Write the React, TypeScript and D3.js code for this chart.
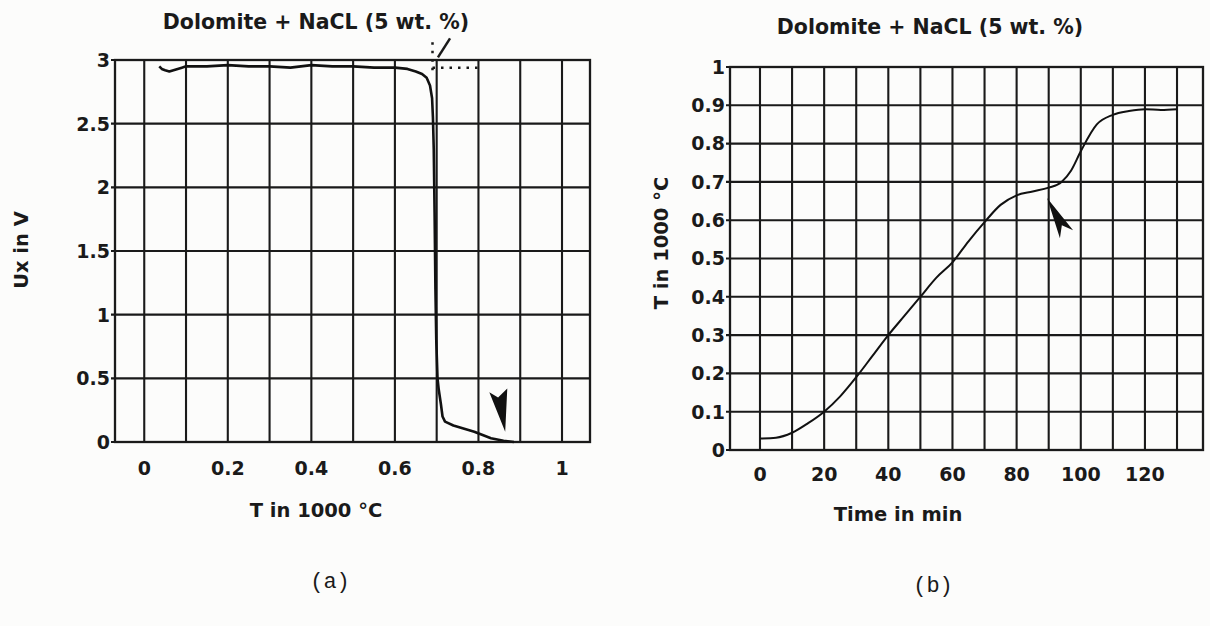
import React, { useEffect, useRef } from 'react';
import * as d3 from 'd3';

// panel (a): Ux against temperature
const tempA = [0.036, 0.042, 0.05, 0.06, 0.07, 0.08, 0.09, 0.1, 0.15, 0.2, 0.25, 0.3, 0.35, 0.4, 0.45, 0.5, 0.55, 0.6, 0.63, 0.65, 0.665, 0.676, 0.684, 0.689, 0.691, 0.693, 0.695, 0.697, 0.699, 0.702, 0.705, 0.71, 0.714, 0.72, 0.74, 0.76, 0.79, 0.81, 0.83, 0.86, 0.885];
const uxA = [2.95, 2.93, 2.92, 2.91, 2.92, 2.93, 2.94, 2.95, 2.95, 2.96, 2.95, 2.95, 2.94, 2.96, 2.95, 2.95, 2.94, 2.94, 2.93, 2.91, 2.89, 2.86, 2.8, 2.7, 2.55, 2.3, 1.8, 1.2, 0.8, 0.5, 0.41, 0.3, 0.2, 0.16, 0.13, 0.11, 0.08, 0.055, 0.03, 0.01, 0];
const xGridA = [0, 0.1, 0.2, 0.3, 0.4, 0.5, 0.6, 0.7, 0.8, 0.9, 1];
const xTicksA = [0, 0.2, 0.4, 0.6, 0.8, 1];
const yTicksA = [0, 0.5, 1, 1.5, 2, 2.5, 3];
const arrowA = [[0.864, 0.08], [0.826, 0.39], [0.847, 0.35], [0.869, 0.42]];
const dotVertA = [[0.69, 3.14], [0.69, 2.91]];
const dotHorA = [[0.69, 2.94], [0.8, 2.94]];
const leaderA = [[0.703, 3.02], [0.732, 3.17]];

// panel (b): temperature against time
const timeB = [0, 5, 10, 15, 20, 25, 30, 35, 40, 45, 50, 55, 60, 65, 70, 75, 80, 85, 90, 94, 97, 100, 105, 110, 115, 120, 125, 130];
const tempB = [0.03, 0.032, 0.045, 0.07, 0.1, 0.14, 0.19, 0.245, 0.3, 0.35, 0.4, 0.45, 0.49, 0.545, 0.595, 0.64, 0.665, 0.675, 0.685, 0.7, 0.73, 0.78, 0.85, 0.875, 0.885, 0.89, 0.888, 0.89];
const xGridB = [0, 10, 20, 30, 40, 50, 60, 70, 80, 90, 100, 110, 120, 130];
const xTicksB = [0, 20, 40, 60, 80, 100, 120];
const yTicksB = [0, 0.1, 0.2, 0.3, 0.4, 0.5, 0.6, 0.7, 0.8, 0.9, 1];
const arrowB = [[89.5, 0.658], [93.5, 0.553], [94.1, 0.587], [97.6, 0.574]];

const title = 'Dolomite + NaCL (5 wt. %)';
const ink = '#1a1a1a';
const font = '"DejaVu Sans", sans-serif';

const App = () => {
    const ref = useRef(null);

    useEffect(() => {
        const svg = d3.select(ref.current);
        svg.selectAll('*').remove();

        svg.append('rect').attr('width', 1210).attr('height', 626).attr('fill', '#fcfcfb');

        const drawPanel = (p) => {
            const x = d3.scaleLinear().domain(p.xDomain).range([p.left, p.right]);
            const y = d3.scaleLinear().domain(p.yDomain).range([p.bottom, p.top]);
            const g = svg.append('g');

            // grid
            p.xGrid.forEach(v => {
                g.append('line')
                    .attr('x1', x(v)).attr('x2', x(v))
                    .attr('y1', p.top).attr('y2', p.bottom)
                    .attr('stroke', ink).attr('stroke-width', 2.1);
            });
            p.yTicks.forEach(v => {
                g.append('line')
                    .attr('x1', p.left - 4).attr('x2', p.right)
                    .attr('y1', y(v)).attr('y2', y(v))
                    .attr('stroke', ink).attr('stroke-width', 2.1);
            });
            g.append('rect')
                .attr('x', p.left).attr('y', p.top)
                .attr('width', p.right - p.left).attr('height', p.bottom - p.top)
                .attr('fill', 'none').attr('stroke', ink).attr('stroke-width', 2.3);

            // tick labels
            p.yTicks.forEach(v => {
                g.append('text')
                    .attr('x', p.left - 5).attr('y', y(v)).attr('dy', '0.36em')
                    .attr('text-anchor', 'end')
                    .style('font-family', font).style('font-weight', 'bold').style('font-size', '19px')
                    .style('fill', ink)
                    .text(String(v));
            });
            p.xTicks.forEach(v => {
                g.append('text')
                    .attr('x', x(v)).attr('y', p.bottom + p.tickGap)
                    .attr('text-anchor', 'middle')
                    .style('font-family', font).style('font-weight', 'bold').style('font-size', '19px')
                    .style('fill', ink)
                    .text(String(v));
            });

            // curve
            const line = d3.line()
                .x(d => x(d[0]))
                .y(d => y(d[1]))
                .curve(p.curve);
            g.append('path')
                .datum(p.xs.map((v, i) => [v, p.ys[i]]))
                .attr('fill', 'none')
                .attr('stroke', '#111')
                .attr('stroke-width', p.lineWidth)
                .attr('stroke-linejoin', 'round')
                .attr('d', line);

            // arrowhead marker
            g.append('path')
                .attr('d', d3.line().x(d => x(d[0])).y(d => y(d[1])).curve(d3.curveLinearClosed)(p.arrow))
                .attr('fill', '#111');

            // titles and axis labels
            g.append('text')
                .attr('x', p.titleX).attr('y', p.titleY)
                .attr('text-anchor', 'middle')
                .style('font-family', font).style('font-weight', 'bold').style('font-size', '20.5px')
                .style('fill', ink)
                .text(title);
            g.append('text')
                .attr('x', p.xLabelX).attr('y', p.xLabelY)
                .attr('text-anchor', 'middle')
                .style('font-family', font).style('font-weight', 'bold').style('font-size', '19.5px')
                .style('fill', ink)
                .text(p.xLabel);
            g.append('text')
                .attr('transform', `translate(${p.yLabelX},${p.yLabelY}) rotate(-90)`)
                .attr('text-anchor', 'middle')
                .style('font-family', font).style('font-weight', 'bold').style('font-size', '19.5px')
                .style('fill', ink)
                .text(p.yLabel);
            g.append('text')
                .attr('x', p.tagX).attr('y', p.tagY)
                .attr('text-anchor', 'middle')
                .style('font-family', '"Liberation Mono", monospace').style('font-size', '22px')
                .style('fill', ink)
                .text(p.tag);

            return { x, y, g };
        };

        const a = drawPanel({
            xDomain: [-0.07, 1.067], yDomain: [0, 3],
            left: 115, right: 590, top: 60, bottom: 442,
            xGrid: xGridA, xTicks: xTicksA, yTicks: yTicksA, tickGap: 33,
            xs: tempA, ys: uxA, curve: d3.curveLinear, lineWidth: 2.6,
            arrow: arrowA,
            titleX: 316, titleY: 29,
            xLabel: 'T in 1000 °C', xLabelX: 316, xLabelY: 517,
            yLabel: 'Ux in V', yLabelX: 28, yLabelY: 250,
            tag: '(a)', tagX: 330, tagY: 588,
        });

        // tangent construction near the step
        const dotted = d3.line().x(d => a.x(d[0])).y(d => a.y(d[1]));
        [dotVertA, dotHorA].forEach(seg => {
            a.g.append('path')
                .attr('d', dotted(seg))
                .attr('stroke', ink).attr('stroke-width', 2.5)
                .attr('stroke-dasharray', '2.5 6').attr('fill', 'none');
        });
        a.g.append('path')
            .attr('d', dotted(leaderA))
            .attr('stroke', ink).attr('stroke-width', 2.5).attr('fill', 'none');

        drawPanel({
            xDomain: [-9.35, 138.1], yDomain: [0, 1],
            left: 730, right: 1203, top: 67, bottom: 450,
            xGrid: xGridB, xTicks: xTicksB, yTicks: yTicksB, tickGap: 31,
            xs: timeB, ys: tempB, curve: d3.curveMonotoneX, lineWidth: 2,
            arrow: arrowB,
            titleX: 930, titleY: 34,
            xLabel: 'Time in min', xLabelX: 898, xLabelY: 521,
            yLabel: 'T in 1000 °C', yLabelX: 668, yLabelY: 243,
            tag: '(b)', tagX: 933, tagY: 592,
        });
    }, []);

    return (
        <svg ref={ref} width={1210} height={626}
            style={{ position: 'absolute', left: 0, top: 0 }} />
    );
};

export default App;
